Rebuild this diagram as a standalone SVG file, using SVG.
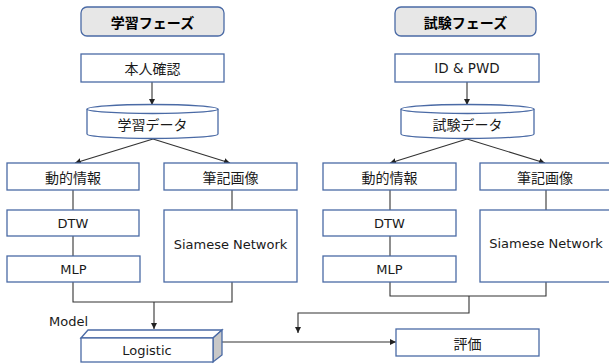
<svg xmlns="http://www.w3.org/2000/svg" width="609" height="364" viewBox="0 0 609 364">
<style>
.box{fill:#ffffff;stroke:#4a6aa5;stroke-width:1.3}
.title{fill:#e7e7e7;stroke:#4a6aa5;stroke-width:1.3}
.jp{font-family:"Noto Sans CJK JP",sans-serif;font-size:14px;fill:#1a1a1a;text-anchor:middle;dominant-baseline:central}
.jpb{font-family:"Noto Sans CJK JP",sans-serif;font-size:14px;font-weight:bold;fill:#000;text-anchor:middle;dominant-baseline:central}
.en{font-family:"DejaVu Sans","Noto Sans",sans-serif;font-size:13px;fill:#1a1a1a;text-anchor:middle;dominant-baseline:central}
.ln{fill:none;stroke:#333;stroke-width:1.1}
.side{fill:#c8c8c8;stroke:#4a6aa5;stroke-width:1.3}
</style>
<defs>
<marker id="ah" viewBox="0 0 10 10" refX="10" refY="5" markerWidth="6" markerHeight="6" orient="auto" markerUnits="userSpaceOnUse">
<path d="M0,0 L10,5 L0,10 z" fill="#222"/>
</marker>
</defs>

<g id="connectors">
<line class="ln" x1="152" y1="82" x2="152" y2="105" marker-end="url(#ah)"/>
<line class="ln" x1="153" y1="139" x2="75" y2="163" marker-end="url(#ah)"/>
<line class="ln" x1="153" y1="139" x2="230" y2="163" marker-end="url(#ah)"/>
<line class="ln" x1="73" y1="190" x2="73" y2="210"/>
<line class="ln" x1="73" y1="236" x2="73" y2="256"/>
<line class="ln" x1="232" y1="190" x2="232" y2="210"/>
<polyline class="ln" points="73,282 73,302 232,302 232,282"/>
<line class="ln" x1="154" y1="302" x2="154" y2="329" marker-end="url(#ah)"/>

<line class="ln" x1="467" y1="82" x2="467" y2="105" marker-end="url(#ah)"/>
<line class="ln" x1="467" y1="139" x2="390" y2="163" marker-end="url(#ah)"/>
<line class="ln" x1="467" y1="139" x2="545" y2="163" marker-end="url(#ah)"/>
<line class="ln" x1="390" y1="190" x2="390" y2="210"/>
<line class="ln" x1="390" y1="236" x2="390" y2="256"/>
<line class="ln" x1="546" y1="190" x2="546" y2="210"/>
<polyline class="ln" points="390,282 390,296 546,296 546,282"/>
<polyline class="ln" points="469,296 469,313 298,313 298,333" marker-end="url(#ah)"/>

<line class="ln" x1="222" y1="342" x2="396" y2="342" marker-end="url(#ah)"/>
</g>

<g id="title-train">
<rect class="title" x="81" y="7" width="143" height="29" rx="6"/>
<text class="jpb" x="152.5" y="21.5">学習フェーズ</text>
</g>
<g id="auth">
<rect class="box" x="81" y="54" width="143" height="28"/>
<text class="jp" x="152.5" y="68">本人確認</text>
</g>
<g id="train-data">
<path class="box" d="M87,109 L87,134 A65.5,4.5 0 0 0 218,134 L218,109"/>
<ellipse class="box" cx="152.5" cy="109" rx="65.5" ry="4.5"/>
<text class="jp" x="152.5" y="124">学習データ</text>
</g>
<g id="dyn-l">
<rect class="box" x="7" y="163" width="132" height="27"/>
<text class="jp" x="73" y="176.5">動的情報</text>
</g>
<g id="img-l">
<rect class="box" x="164" y="163" width="133" height="27"/>
<text class="jp" x="230.5" y="176.5">筆記画像</text>
</g>
<g id="dtw-l">
<rect class="box" x="7" y="210" width="132" height="26"/>
<text class="en" x="73" y="223">DTW</text>
</g>
<g id="mlp-l">
<rect class="box" x="7" y="256" width="133" height="26"/>
<text class="en" x="73.5" y="269">MLP</text>
</g>
<g id="siam-l">
<rect class="box" x="164" y="210" width="133" height="72"/>
<text class="en" x="230.5" y="244">Siamese Network</text>
</g>
<g id="logistic">
<path class="box" d="M81,338 L88,330 L222,330 L213,338 z"/>
<path class="side" d="M213,338 L222,330 L222,355 L213,362 z"/>
<rect class="box" x="81" y="338" width="132" height="24"/>
<text class="en" x="147" y="350">Logistic</text>
</g>
<g id="model-label">
<text class="en" x="49" y="321" style="text-anchor:start">Model</text>
</g>

<g id="title-test">
<rect class="title" x="395" y="7" width="141" height="29" rx="6"/>
<text class="jpb" x="465.5" y="21.5">試験フェーズ</text>
</g>
<g id="idpwd">
<rect class="box" x="395" y="54" width="144" height="28"/>
<text class="en" x="467" y="68" style="font-size:13.5px">ID &amp; PWD</text>
</g>
<g id="test-data">
<path class="box" d="M401,109 L401,134 A66.5,4.5 0 0 0 534,134 L534,109"/>
<ellipse class="box" cx="467.5" cy="109" rx="66.5" ry="4.5"/>
<text class="jp" x="467.5" y="124">試験データ</text>
</g>
<g id="dyn-r">
<rect class="box" x="323" y="163" width="133" height="27"/>
<text class="jp" x="389.5" y="176.5">動的情報</text>
</g>
<g id="img-r">
<rect class="box" x="480" y="163" width="133" height="27"/>
<text class="jp" x="545" y="176.5">筆記画像</text>
</g>
<g id="dtw-r">
<rect class="box" x="323" y="210" width="133" height="26"/>
<text class="en" x="389.5" y="223">DTW</text>
</g>
<g id="mlp-r">
<rect class="box" x="323" y="256" width="133" height="26"/>
<text class="en" x="389.5" y="269">MLP</text>
</g>
<g id="siam-r">
<rect class="box" x="480" y="210" width="133" height="72"/>
<text class="en" x="546" y="243">Siamese Network</text>
</g>
<g id="eval">
<rect class="box" x="396" y="329" width="143" height="27"/>
<text class="jp" x="467.5" y="342.5">評価</text>
</g>
</svg>
